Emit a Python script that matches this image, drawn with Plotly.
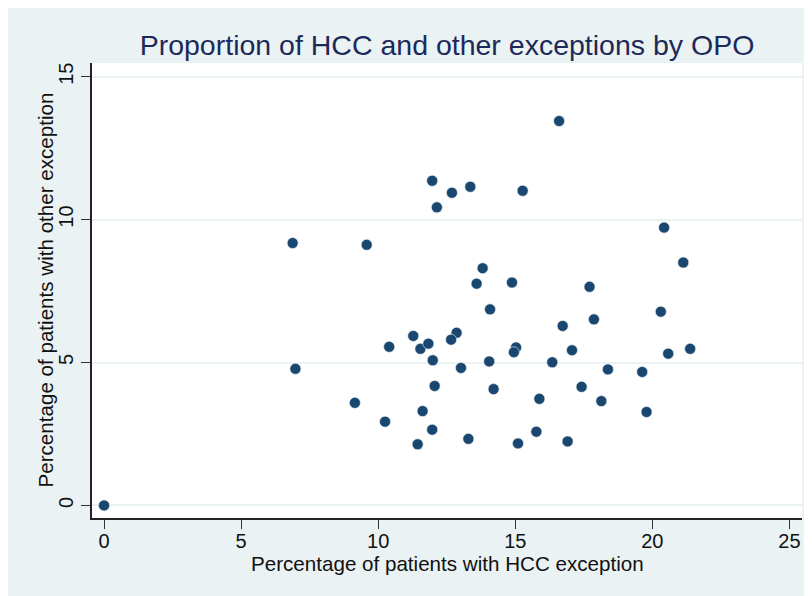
import plotly.graph_objects as go

# Data: percentage of patients with HCC exception (x) and with other exception (y), one point per OPO
hcc_pct = [0.0, 6.88, 6.98, 9.58, 9.15, 10.25, 10.40, 11.28, 11.54, 11.83,
           11.99, 12.06, 11.62, 11.97, 11.44, 11.97, 12.14, 12.69, 13.36, 15.27,
           16.60, 20.43, 21.13, 13.81, 13.59, 14.88, 17.71, 14.08, 20.31, 17.87,
           16.73, 12.86, 12.66, 15.03, 14.95, 17.07, 21.38, 20.58, 14.05, 16.35,
           13.02, 18.38, 19.63, 14.21, 17.42, 15.88, 18.14, 19.79, 13.29, 15.77,
           15.10, 16.91]
other_pct = [0.0, 9.18, 4.78, 9.12, 3.59, 2.93, 5.55, 5.93, 5.48, 5.66,
             5.08, 4.18, 3.30, 2.65, 2.14, 11.36, 10.43, 10.94, 11.15, 11.01,
             13.45, 9.72, 8.50, 8.30, 7.76, 7.80, 7.65, 6.86, 6.78, 6.51,
             6.28, 6.04, 5.80, 5.53, 5.36, 5.43, 5.48, 5.31, 5.04, 5.01,
             4.81, 4.76, 4.67, 4.07, 4.15, 3.73, 3.65, 3.27, 2.33, 2.58,
             2.17, 2.24]

x_ticks = [0, 5, 10, 15, 20, 25]
y_ticks = [0, 5, 10, 15]

title_text = "Proportion of HCC and other exceptions by OPO"
x_title = "Percentage of patients with HCC exception"
y_title = "Percentage of patients with other exception"

BG = "#EAF2F3"
FONT = "Arial, Liberation Sans, sans-serif"

fig = go.Figure()
fig.add_trace(go.Scatter(
    x=hcc_pct, y=other_pct, mode="markers",
    marker=dict(color="#1A476F", size=11, line=dict(width=0.6, color="#E8EEF3")),
    hoverinfo="x+y", showlegend=False,
))

fig.update_layout(
    width=812, height=596,
    margin=dict(l=84, r=18, t=55, b=86, autoexpand=False),
    paper_bgcolor=BG,
    plot_bgcolor="white",
    font=dict(family=FONT, color="#111111"),
    title=dict(
        text=title_text, x=0.5, xref="paper", y=1 - 37 / 596, yref="container",
        xanchor="center", yanchor="middle",
        font=dict(family=FONT, size=28.5, color="#1C2A5A"),
    ),
    xaxis=dict(
        range=[-0.44, 25.46], tickvals=x_ticks, ticktext=[str(v) for v in x_ticks],
        showgrid=False, zeroline=False,
        showline=True, linecolor="#222222", linewidth=1.5,
        ticks="outside", ticklen=9, tickwidth=1.2, tickcolor="#333333",
        tickfont=dict(size=20, color="#111111"),
        ticklabelstandoff=-5,
    ),
    yaxis=dict(
        range=[-0.44, 15.48], tickvals=y_ticks, ticktext=[str(v) for v in y_ticks],
        showgrid=True, gridcolor=BG, gridwidth=1.5, zeroline=False,
        showline=True, linecolor="#222222", linewidth=1.5,
        ticks="outside", ticklen=9, tickwidth=1.2, tickcolor="#333333",
        tickangle=-90,
        tickfont=dict(size=20, color="#111111"),
    ),
    annotations=[
        dict(text=x_title, xref="paper", yref="paper", x=0.5, y=0,
             xanchor="center", yanchor="middle", yshift=-45, showarrow=False,
             font=dict(family=FONT, size=20.6, color="#111111")),
        dict(text=y_title, xref="paper", yref="paper", x=0, y=0.5,
             xanchor="center", yanchor="middle", xshift=-47, textangle=-90,
             showarrow=False,
             font=dict(family=FONT, size=20.6, color="#111111")),
    ],
)

fig.write_html("out.html")
